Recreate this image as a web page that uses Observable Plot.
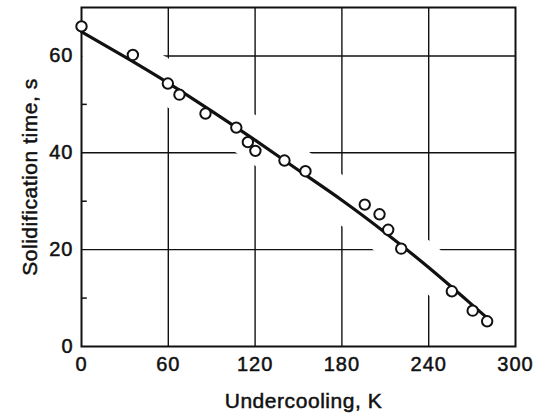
<!DOCTYPE html>
<html>
<head>
<meta charset="utf-8">
<script src="https://cdn.jsdelivr.net/npm/d3@7"></script>
<script src="https://cdn.jsdelivr.net/npm/@observablehq/plot@0.6"></script>
<style>
  html, body { margin: 0; padding: 0; background: #fff; }
  #chart { width: 535px; height: 416px; }
</style>
</head>
<body>
<div id="chart"></div>
<script>
// Tick values
const xTicks = [0, 60, 120, 180, 240, 300];
const yTicks = [0, 20, 40, 60];
const yMinorTicks = [10, 30, 50];

// Measured points (undercooling K, solidification time s)
const obsUndercooling = [0, 35.5, 59.7, 67.7, 85.7, 107, 115, 120.2, 140.3, 154.8, 195.8, 206, 212, 221, 256, 270.4, 280.4];
const obsTime        = [66.1, 60.2, 54.3, 52.0, 48.1, 45.2, 42.2, 40.4, 38.4, 36.2, 29.3, 27.3, 24.1, 20.2, 11.4, 7.4, 5.2];

// Fitted curve
const fitUndercooling = [0, 30, 60, 90, 120, 150, 180, 210, 240, 270, 282];
const fitTime         = [65, 59.8, 54.4, 48.6, 42.6, 36.4, 30.2, 23.5, 16.3, 8.6, 5.5];

const xLabel = "Undercooling, K";
const yLabel = "Solidification time, s";

const obs = obsUndercooling.map((x, i) => ({x, y: obsTime[i]}));
const fit = fitUndercooling.map((x, i) => ({x, y: fitTime[i]}));

const ink = "#111";

const chart = Plot.plot({
  width: 535,
  height: 416,
  marginLeft: 81,
  marginRight: 20,
  marginTop: 7,
  marginBottom: 70,
  x: {domain: [0, 300]},
  y: {domain: [0, 70]},
  style: {fontFamily: "'Liberation Sans', Arial, sans-serif", fontSize: "20px", background: "white", color: ink},
  marks: [
    Plot.gridX(xTicks.slice(1, -1), {stroke: ink, strokeOpacity: 1, strokeWidth: 1.4}),
    Plot.gridY(yTicks.slice(1), {stroke: ink, strokeOpacity: 1, strokeWidth: 1.4}),
    // white halo around the curve and points (gaps in grid)
    Plot.line(fit, {x: "x", y: "y", curve: "natural", stroke: "white", strokeWidth: 42, strokeLinecap: "butt", clip: true}),
    Plot.dot(obs, {x: "x", y: "y", r: 13, fill: "white", stroke: null, clip: true}),
    Plot.frame({stroke: ink, strokeWidth: 2}),
    Plot.ruleY(yMinorTicks, {x1: 0, x2: 4, stroke: ink, strokeWidth: 1.5}),
    Plot.axisX({ticks: xTicks, tickSize: 0, tickPadding: 10, label: null, fontSize: 20}),
    Plot.axisY({ticks: yTicks, tickSize: 0, tickPadding: 8, label: null, fontSize: 20}),
    Plot.line(fit, {x: "x", y: "y", curve: "natural", stroke: ink, strokeWidth: 3.2}),
    Plot.dot(obs, {x: "x", y: "y", r: 5.2, fill: "white", stroke: ink, strokeWidth: 2}),
    Plot.text([xLabel], {frameAnchor: "bottom", textAnchor: "middle", lineAnchor: "middle", dx: 5, dy: 55, fontSize: 21, fill: ink}),
    Plot.text([yLabel], {frameAnchor: "left", textAnchor: "middle", lineAnchor: "middle", rotate: -90, dx: -51, fontSize: 21, fill: ink})
  ]
});

document.getElementById("chart").appendChild(chart);
const svg = d3.select(chart);
svg.selectAll('g[aria-label="text"] text').style("letter-spacing", "0.55px");
svg.selectAll('g[aria-label="x-axis tick label"] text, g[aria-label="y-axis tick label"] text').style("letter-spacing", "1px");
// slightly heavier glyphs, like the printed original
svg.selectAll('g[aria-label="text"] text, g[aria-label="x-axis tick label"] text, g[aria-label="y-axis tick label"] text')
  .style("stroke", ink).style("stroke-width", "0.5px");
</script>
</body>
</html>
